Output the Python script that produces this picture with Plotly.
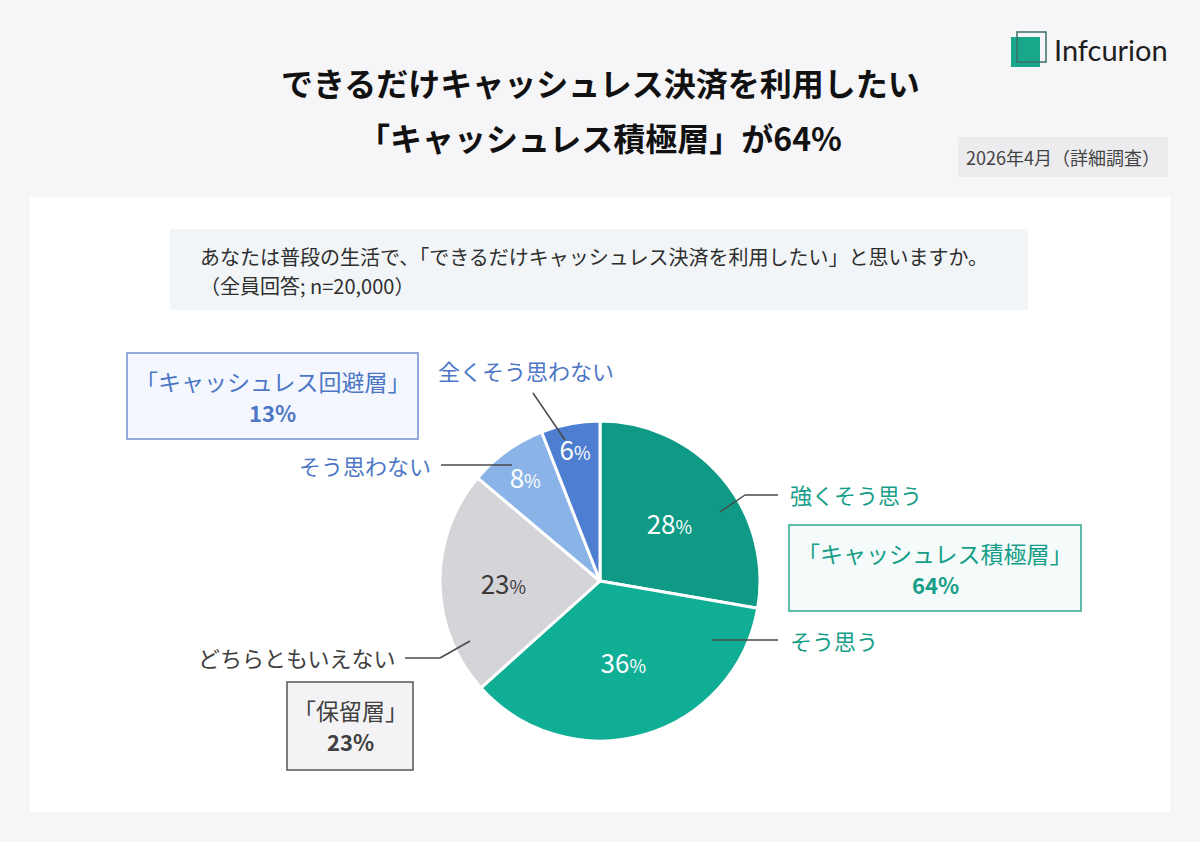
import plotly.graph_objects as go

# ---- data ----
categories = ["強くそう思う", "そう思う", "どちらともいえない", "そう思わない", "全くそう思わない"]
values = [28, 36, 23, 8, 6]
slice_colors = ["#0e9a85", "#0fae95", "#d5d4d8", "#8ab4e8", "#4e7ecf"]
text_colors = ["#ffffff", "#ffffff", "#3a3a3a", "#ffffff", "#ffffff"]
group_names = ["「キャッシュレス積極層」", "「保留層」", "「キャッシュレス回避層」"]
group_values = [64, 23, 13]

W, H = 1200, 842
FONT = "Noto Sans CJK JP"


def px(x):
    return x / W


def py(y):
    return 1 - y / H


fig = go.Figure()

texts = [f"{v}<span style='font-size:18px'>%</span>" for v in values]
fig.add_trace(go.Pie(
    labels=categories,
    values=values,
    sort=False,
    direction="clockwise",
    rotation=0,
    marker=dict(colors=slice_colors, line=dict(color="#ffffff", width=3)),
    text=texts,
    textinfo="text",
    textposition="inside",
    insidetextorientation="horizontal",
    textfont=dict(family=FONT, size=26, color=text_colors),
    domain=dict(x=[px(440), px(760)], y=[py(741), py(421)]),
    showlegend=False,
    hoverinfo="label+percent",
))

shapes = []
annotations = []


def ann(x, y, text, size, color, xanchor="center", family=FONT):
    annotations.append(dict(x=px(x), y=py(y), xref="paper", yref="paper", showarrow=False,
                            xanchor=xanchor, yanchor="middle", text=text,
                            font=dict(family=family, size=size, color=color)))


def rect(x0, x1, y0, y1, fill, line=None):
    shapes.append(dict(type="rect", xref="paper", yref="paper", x0=px(x0), x1=px(x1), y0=py(y1), y1=py(y0),
                       fillcolor=fill, line=line if line else dict(width=0), layer="below"))


# page background card
rect(30, 1170, 197, 812, "#ffffff")
# question box
rect(170, 1028, 229, 310, "#f1f5f7")
# date box
rect(958, 1168, 137, 177, "#ececef")
# logo squares
shapes.append(dict(type="rect", xref="paper", yref="paper", x0=px(1011), x1=px(1040), y0=py(67), y1=py(37),
                   fillcolor="#17a88c", line=dict(width=0)))
shapes.append(dict(type="rect", xref="paper", yref="paper", x0=px(1017), x1=px(1046), y0=py(62), y1=py(32),
                   fillcolor="rgba(0,0,0,0)", line=dict(color="#3b6f66", width=1.5)))

# titles
ann(600, 82, "<b>できるだけキャッシュレス決済を利用したい</b>", 32, "#111111")
ann(600, 137, f"<b>{group_names[0]}が{group_values[0]}%</b>", 32, "#111111")
ann(1052, 50, "Infcurion", 29, "#1e1e1e", xanchor="left", family="Lato")
ann(1063, 157, "2026年4月（詳細調査）", 18, "#444444")
ann(198, 256, "あなたは普段の生活で、「できるだけキャッシュレス決済を利用したい」と思いますか。", 20, "#2e2e2e", xanchor="left")
ann(198, 285, "（全員回答; n=20,000）", 20, "#2e2e2e", xanchor="left")

# category labels and leader lines
LINE = dict(color="#4a4a4a", width=1.5)
teal = "#169e88"
blue = "#4d77c6"
gray = "#404040"


def seg(x0, y0, x1, y1):
    shapes.append(dict(type="line", xref="paper", yref="paper", x0=px(x0), y0=py(y0), x1=px(x1), y1=py(y1), line=LINE))


LS = 22
# 強くそう思う
seg(720, 512, 745, 495); seg(745, 495, 778, 495)
ann(788, 494, categories[0], LS, teal, xanchor="left")
# そう思う
seg(712, 640, 778, 640)
ann(788, 640, categories[1], LS, teal, xanchor="left")
# どちらともいえない
seg(405, 658, 440, 658); seg(440, 658, 470, 641)
ann(398, 657, categories[2], LS, gray, xanchor="right")
# そう思わない
seg(441, 465, 512, 465)
ann(433, 465, categories[3], LS, blue, xanchor="right")
# 全くそう思わない
seg(533, 393, 565, 440)
ann(526, 370, categories[4], LS, blue)

# group boxes
boxes = [
    (789, 1081, 525, 611, "#2ea68f", "#f4fbfa", teal, 0),
    (287, 413, 682, 770, "#555555", "#f3f3f5", gray, 1),
    (127, 418, 353, 439, "#7390d2", "#f4f7fd", blue, 2),
]
for x0, x1, y0, y1, lc, fc, tc, i in boxes:
    shapes.append(dict(type="rect", xref="paper", yref="paper", x0=px(x0), x1=px(x1), y0=py(y1), y1=py(y0),
                       fillcolor=fc, line=dict(color=lc, width=1.5)))
    cx = (x0 + x1) / 2
    ann(cx, y0 + 28, group_names[i], 23, tc)
    ann(cx, y0 + 59, f"<b>{group_values[i]}%</b>", 22, tc)

fig.update_layout(
    width=W, height=H,
    margin=dict(l=0, r=0, t=0, b=0),
    paper_bgcolor="#f6f5f8",
    plot_bgcolor="#f6f5f8",
    shapes=shapes,
    annotations=annotations,
    font=dict(family=FONT),
)

fig.write_html("out.html")
